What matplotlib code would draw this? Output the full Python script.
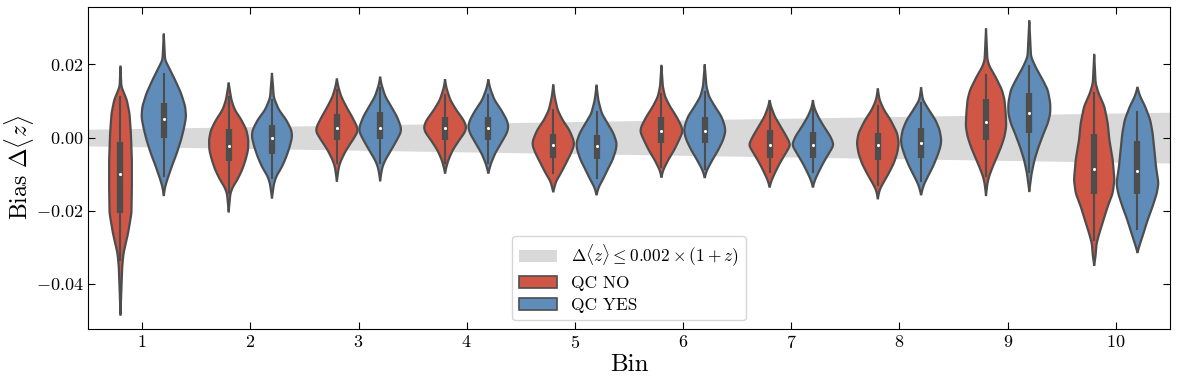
import numpy as np
import matplotlib
matplotlib.use("Agg")
import matplotlib.pyplot as plt
from matplotlib.patches import Patch

plt.rcParams.update({
    "font.family": "serif",
    "font.serif": ["cmr10"],
    "mathtext.fontset": "cm",
    "axes.formatter.use_mathtext": True,
})

bins = [1, 2, 3, 4, 5, 6, 7, 8, 9, 10]
groups = ["QC NO", "QC YES"]
colors = ["#d05646", "#5f8cb8"]
edge = "#4d4d4d"

# redshift range covered by the bins, used for the 0.002 (1+z) band
band_z = [0.14, 2.47]

# violin outlines: bias values (top -> bottom) and half widths
no_y = [
    [0.0194, 0.0139, 0.0103, 0.0066, 0.0012, -0.0061, -0.0134, -0.0207, -0.0261, -0.0316, -0.0352, -0.0416, -0.0484],
    [0.0148, 0.0130, 0.0103, 0.0076, 0.0048, 0.0021, -0.0006, -0.0034, -0.0061, -0.0088, -0.0116, -0.0134, -0.0152, -0.0170, -0.0202],
    [0.0159, 0.0139, 0.0112, 0.0085, 0.0057, 0.0030, 0.0016, -0.0006, -0.0034, -0.0061, -0.0079, -0.0097, -0.0118],
    [0.0157, 0.0135, 0.0103, 0.0076, 0.0048, 0.0030, 0.0016, -0.0006, -0.0034, -0.0061, -0.0079, -0.0096],
    [0.0143, 0.0112, 0.0076, 0.0048, 0.0021, -0.0006, -0.0020, -0.0043, -0.0070, -0.0097, -0.0120, -0.0134, -0.0147],
    [0.0196, 0.0139, 0.0112, 0.0085, 0.0057, 0.0030, 0.0016, -0.0006, -0.0034, -0.0061, -0.0088, -0.0107],
    [0.0100, 0.0085, 0.0057, 0.0030, 0.0003, -0.0020, -0.0043, -0.0070, -0.0097, -0.0116, -0.0134],
    [0.0132, 0.0103, 0.0076, 0.0048, 0.0012, -0.0015, -0.0043, -0.0070, -0.0097, -0.0125, -0.0143, -0.0166],
    [0.0296, 0.0212, 0.0194, 0.0167, 0.0130, 0.0103, 0.0066, 0.0030, 0.0003, -0.0025, -0.0052, -0.0079, -0.0106, -0.0125, -0.0157],
    [0.0226, 0.0148, 0.0121, 0.0085, 0.0039, -0.0006, -0.0061, -0.0116, -0.0152, -0.0188, -0.0225, -0.0261, -0.0289, -0.0325, -0.0348],
]
no_w = [
    [0, 0.008, 0.058, 0.083, 0.096, 0.105, 0.105, 0.101, 0.070, 0.028, 0.016, 0.008, 0],
    [0, 0.010, 0.025, 0.056, 0.118, 0.164, 0.182, 0.179, 0.156, 0.125, 0.079, 0.040, 0.016, 0.010, 0],
    [0, 0.013, 0.040, 0.086, 0.140, 0.187, 0.194, 0.148, 0.086, 0.040, 0.019, 0.010, 0],
    [0, 0.013, 0.048, 0.102, 0.171, 0.197, 0.187, 0.133, 0.071, 0.031, 0.013, 0],
    [0, 0.013, 0.040, 0.086, 0.148, 0.187, 0.194, 0.164, 0.118, 0.071, 0.025, 0.013, 0],
    [0, 0.013, 0.033, 0.079, 0.140, 0.187, 0.197, 0.164, 0.118, 0.063, 0.017, 0],
    [0, 0.013, 0.048, 0.102, 0.156, 0.194, 0.148, 0.094, 0.048, 0.019, 0],
    [0, 0.016, 0.056, 0.118, 0.179, 0.194, 0.179, 0.148, 0.102, 0.048, 0.016, 0],
    [0, 0.013, 0.033, 0.086, 0.148, 0.171, 0.182, 0.187, 0.171, 0.140, 0.102, 0.063, 0.028, 0.013, 0],
    [0, 0.013, 0.040, 0.094, 0.125, 0.140, 0.171, 0.187, 0.171, 0.125, 0.086, 0.048, 0.022, 0.012, 0],
]
yes_y = [
    [0.0282, 0.0212, 0.0194, 0.0157, 0.0121, 0.0085, 0.0057, 0.0030, -0.0006, -0.0043, -0.0079, -0.0116, -0.0134, -0.0157],
    [0.0174, 0.0139, 0.0112, 0.0103, 0.0076, 0.0048, 0.0021, 0.0003, -0.0025, -0.0052, -0.0079, -0.0106, -0.0125, -0.0164],
    [0.0164, 0.0144, 0.0112, 0.0085, 0.0057, 0.0030, 0.0016, -0.0006, -0.0034, -0.0061, -0.0079, -0.0097, -0.0117],
    [0.0157, 0.0135, 0.0103, 0.0076, 0.0048, 0.0030, 0.0012, -0.0015, -0.0043, -0.0070, -0.0096],
    [0.0142, 0.0103, 0.0066, 0.0039, 0.0012, -0.0015, -0.0034, -0.0061, -0.0088, -0.0116, -0.0134, -0.0155],
    [0.0198, 0.0139, 0.0112, 0.0085, 0.0057, 0.0030, 0.0016, -0.0006, -0.0034, -0.0061, -0.0088, -0.0108],
    [0.0100, 0.0081, 0.0057, 0.0030, 0.0003, -0.0020, -0.0043, -0.0070, -0.0097, -0.0116, -0.0134],
    [0.0135, 0.0103, 0.0076, 0.0048, 0.0021, -0.0006, -0.0025, -0.0052, -0.0079, -0.0106, -0.0129, -0.0155],
    [0.0318, 0.0221, 0.0194, 0.0157, 0.0130, 0.0094, 0.0066, 0.0039, 0.0012, -0.0025, -0.0061, -0.0097, -0.0146],
    [0.0136, 0.0112, 0.0085, 0.0048, 0.0012, -0.0034, -0.0079, -0.0125, -0.0152, -0.0188, -0.0225, -0.0261, -0.0289, -0.0313],
]
yes_w = [
    [0, 0.012, 0.043, 0.105, 0.160, 0.198, 0.206, 0.190, 0.160, 0.120, 0.074, 0.031, 0.013, 0],
    [0, 0.010, 0.016, 0.025, 0.063, 0.133, 0.179, 0.187, 0.164, 0.133, 0.094, 0.040, 0.019, 0],
    [0, 0.013, 0.048, 0.102, 0.156, 0.191, 0.194, 0.156, 0.102, 0.048, 0.022, 0.010, 0],
    [0, 0.016, 0.056, 0.118, 0.171, 0.187, 0.171, 0.118, 0.063, 0.025, 0],
    [0, 0.016, 0.048, 0.102, 0.156, 0.187, 0.179, 0.148, 0.102, 0.056, 0.022, 0],
    [0, 0.016, 0.040, 0.094, 0.156, 0.187, 0.191, 0.171, 0.125, 0.071, 0.022, 0],
    [0, 0.013, 0.048, 0.102, 0.162, 0.194, 0.148, 0.094, 0.048, 0.019, 0],
    [0, 0.016, 0.071, 0.133, 0.171, 0.187, 0.179, 0.148, 0.110, 0.063, 0.025, 0],
    [0, 0.016, 0.056, 0.125, 0.171, 0.194, 0.194, 0.171, 0.133, 0.086, 0.048, 0.022, 0],
    [0, 0.025, 0.071, 0.118, 0.140, 0.156, 0.171, 0.194, 0.179, 0.140, 0.094, 0.056, 0.025, 0],
]

# inner box: lower whisker, q1, median, q3, upper whisker
no_box = [
    [-0.0334, -0.0205, -0.0100, -0.0011, 0.0112],
    [-0.0152, -0.0064, -0.0022, 0.0024, 0.0112],
    [-0.0070, -0.0006, 0.0026, 0.0065, 0.0130],
    [-0.0070, -0.0006, 0.0026, 0.0057, 0.0117],
    [-0.0097, -0.0055, -0.0021, 0.0010, 0.0076],
    [-0.0080, -0.0014, 0.0018, 0.0056, 0.0120],
    [-0.0095, -0.0057, -0.0020, 0.0021, 0.0085],
    [-0.0130, -0.0062, -0.0021, 0.0012, 0.0085],
    [-0.0104, -0.0007, 0.0043, 0.0105, 0.0171],
    [-0.0280, -0.0153, -0.0087, 0.0010, 0.0121],
]
yes_box = [
    [-0.0104, -0.0002, 0.0050, 0.0094, 0.0174],
    [-0.0111, -0.0045, 0.0000, 0.0035, 0.0103],
    [-0.0070, -0.0003, 0.0027, 0.0070, 0.0135],
    [-0.0070, -0.0007, 0.0027, 0.0057, 0.0117],
    [-0.0110, -0.0059, -0.0022, 0.0007, 0.0070],
    [-0.0085, -0.0016, 0.0018, 0.0056, 0.0125],
    [-0.0095, -0.0057, -0.0020, 0.0014, 0.0085],
    [-0.0120, -0.0056, -0.0015, 0.0026, 0.0095],
    [-0.0093, 0.0012, 0.0066, 0.0121, 0.0196],
    [-0.0249, -0.0153, -0.0092, -0.0009, 0.0071],
]


def smooth_outline(ys, ws, step=0.0001, sigma=0.0006):
    ys = np.asarray(ys)[::-1]
    ws = np.asarray(ws)[::-1]
    grid = np.arange(ys[0], ys[-1] + step / 2, step)
    w = np.interp(grid, ys, ws)
    k = np.arange(-3 * sigma, 3 * sigma + step / 2, step)
    kern = np.exp(-0.5 * (k / sigma) ** 2)
    kern /= kern.sum()
    w = np.convolve(w, kern, mode="same")
    return grid, w


def draw_violin(ax, pos, ys, ws, box, color):
    yy, w = smooth_outline(ys, ws)
    px = np.concatenate([pos - w, (pos + w)[::-1]])
    py = np.concatenate([yy, yy[::-1]])
    ax.fill(px, py, facecolor=color, edgecolor=edge, linewidth=1.6, zorder=2)
    lo, q1, med, q3, hi = box
    ax.plot([pos, pos], [lo, hi], color=edge, linewidth=1.5, zorder=3)
    ax.plot([pos, pos], [q1, q3], color=edge, linewidth=4.5,
            solid_capstyle="butt", zorder=3)
    ax.scatter([pos], [med], s=5, color="white", zorder=4, linewidths=0)


fig, ax = plt.subplots(figsize=(11.77, 3.85), dpi=100)
fig.subplots_adjust(left=0.0748, right=0.994, top=0.982, bottom=0.1455)

# tolerance band
bx = np.array([0.5, 10.5])
bz = np.array(band_z)
ax.fill_between(bx, -0.002 * (1 + bz), 0.002 * (1 + bz), color="#d9d9d9",
                linewidth=0, zorder=1)

for i, b in enumerate(bins):
    draw_violin(ax, b - 0.2, no_y[i], no_w[i], no_box[i], colors[0])
    draw_violin(ax, b + 0.2, yes_y[i], yes_w[i], yes_box[i], colors[1])

ax.set_xlim(0.5, 10.5)
ax.set_ylim(-0.0523, 0.0357)
ax.set_xticks(bins)
ax.set_yticks([-0.04, -0.02, 0.0, 0.02])
ax.tick_params(direction="in", top=True, right=True, labelsize=13, length=5)
ax.set_xlabel("Bin", fontsize=18, labelpad=2)
ax.set_ylabel(r"Bias $\Delta\langle z\rangle$", fontsize=17, labelpad=0)

handles = [
    Patch(facecolor="#d9d9d9", edgecolor="none",
          label=r"$\Delta\langle z\rangle \leq 0.002\times(1+z)$"),
    Patch(facecolor=colors[0], edgecolor=edge, linewidth=1.2, label=groups[0]),
    Patch(facecolor=colors[1], edgecolor=edge, linewidth=1.2, label=groups[1]),
]
ax.legend(handles=handles, loc="lower center", fontsize=12.5,
          handlelength=2.2, labelspacing=0.4)

fig.savefig("out.png", dpi=100)
